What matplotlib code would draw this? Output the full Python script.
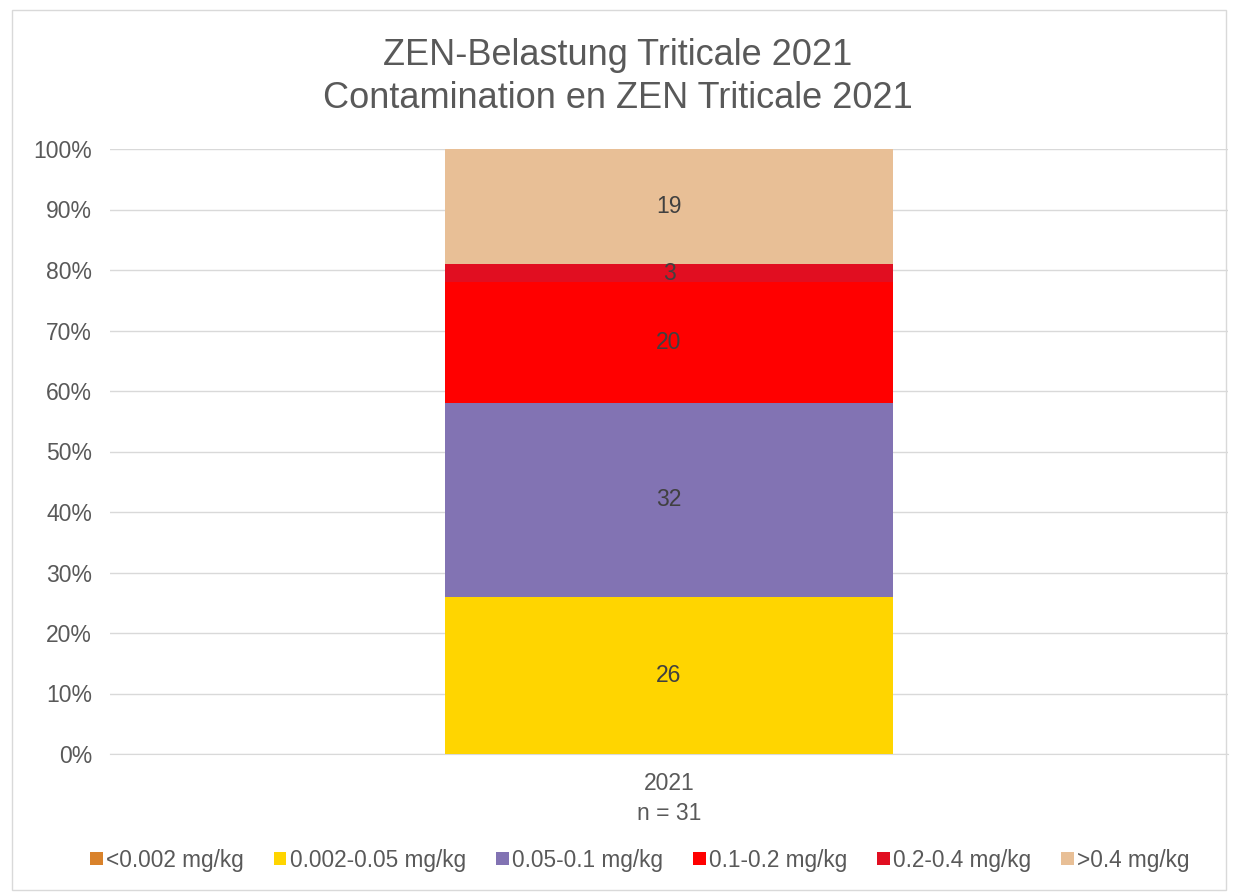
import matplotlib.pyplot as plt
from matplotlib.patches import Rectangle

plt.rcParams['font.family'] = ['Liberation Sans', 'DejaVu Sans']

categories = ["2021\nn = 31"]
series = ["<0.002 mg/kg", "0.002-0.05 mg/kg", "0.05-0.1 mg/kg",
          "0.1-0.2 mg/kg", "0.2-0.4 mg/kg", ">0.4 mg/kg"]
values = [0, 26, 32, 20, 3, 19]
colors = ["#D9822B", "#FFD500", "#8273B3", "#FF0000", "#E10E21", "#E8BF96"]
yticks = [0, 10, 20, 30, 40, 50, 60, 70, 80, 90, 100]

txt = "#595959"

fig = plt.figure(figsize=(12.36, 8.94), dpi=100)
fig.patches.append(Rectangle((12 / 1236, 4 / 894), 1214 / 1236, 880 / 894,
                             transform=fig.transFigure, fill=False,
                             edgecolor="#D9D9D9", linewidth=1))
ax = fig.add_axes([110 / 1236, 1 - 754 / 894, 1118 / 1236, 605 / 894])

bottom = 0
handles = []
for name, v, c in zip(series, values, colors):
    b = ax.bar(0, v, width=0.4, bottom=bottom, color=c, label=name, zorder=3)
    handles.append(b)
    if v > 0:
        ax.text(0, bottom + v / 2, str(v), ha="center", va="center",
                fontsize=16.5, color="#404040", zorder=4)
    bottom += v

ax.set_xlim(-0.5, 0.5)
ax.set_ylim(0, 100)
ax.set_yticks(yticks)
ax.set_yticklabels([f"{t}%" for t in yticks], fontsize=16.5, color=txt)
ax.set_xticks([0])
ax.set_xticklabels(categories, fontsize=16.5, color=txt, linespacing=1.36)
ax.tick_params(axis="y", length=0, pad=13)
ax.tick_params(axis="x", length=0, pad=13)
ax.grid(axis="y", color="#D9D9D9", linewidth=1, zorder=0)
for s in ["top", "right", "left"]:
    ax.spines[s].set_visible(False)
ax.spines["bottom"].set_color("#D9D9D9")

fig.text(0.5, 1 - 77 / 894, "ZEN-Belastung Triticale 2021\nContamination en ZEN Triticale 2021",
         ha="center", va="center", fontsize=26, color=txt, linespacing=1.3)

fig.legend(handles=handles, loc="center", bbox_to_anchor=(640 / 1236, 1 - 860 / 894),
           ncol=6, frameon=False, fontsize=16.3, labelcolor=txt,
           handlelength=0.55, handleheight=0.55, handletextpad=0.15,
           columnspacing=1.33)

fig.savefig("out.png", dpi=100)
